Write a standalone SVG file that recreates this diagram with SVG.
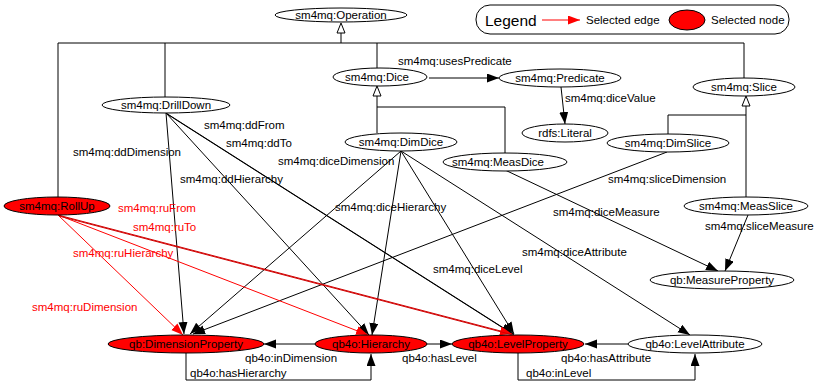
<svg xmlns="http://www.w3.org/2000/svg" width="818" height="384" viewBox="0 0 818 384">
<style>
.n{fill:#fff;stroke:#000;stroke-width:1}
.s{fill:#f00;stroke:#000;stroke-width:1}
.t{font-family:"Liberation Sans",Arial,sans-serif;font-size:11.5px;fill:#000}
.tc{text-anchor:middle}
.r{fill:#f00}
.e{fill:none;stroke:#000;stroke-width:1}
.er{fill:none;stroke:#f00;stroke-width:1}
.ed{fill:none;stroke:#d00000;stroke-width:1}
.h{fill:#fff;stroke:#000;stroke-width:1}
</style>
<defs>
<marker id="a" markerUnits="userSpaceOnUse" markerWidth="13" markerHeight="10" refX="12" refY="4.5" orient="auto"><path d="M0,0 L12,4.5 L0,9 z" fill="#000"/></marker>
<marker id="ar" markerUnits="userSpaceOnUse" markerWidth="13" markerHeight="10" refX="12" refY="4.5" orient="auto"><path d="M0,0 L12,4.5 L0,9 z" fill="#f00"/></marker>
</defs>
<rect width="818" height="384" fill="#fff"/>

<g id="legend">
<rect x="476" y="5" width="313" height="29" rx="14" ry="14" fill="#fff" stroke="#000"/>
<text x="485" y="26" font-family="Liberation Sans,Arial,sans-serif" font-size="15.5px">Legend</text>
<line x1="542" y1="20" x2="580" y2="20" stroke="#f00" stroke-width="1" marker-end="url(#ar)"/>
<text class="t" x="586" y="24">Selected edge</text>
<ellipse cx="687" cy="20" rx="18" ry="10" class="s"/>
<text class="t" x="711" y="24">Selected node</text>
</g>

<g id="connectors">
<path class="e" d="M58,197 V43 H744 V78 M341,33 V43 M165,43 V97 M377,43 V68"/>
<polygon class="h" points="341,23 345,33 337,33"/>
<path class="e" d="M377,96 V133 M377,107 H505 V153"/>
<polygon class="h" points="377,86 381,96 373,96"/>
<path class="e" d="M746,106 V197 M746,115 H668 V134"/>
<polygon class="h" points="746,96 750,106 742,106"/>
<line class="e" x1="429" y1="78" x2="499" y2="78" marker-end="url(#a)"/>
<line class="e" x1="561" y1="87" x2="565" y2="124" marker-end="url(#a)"/>
<line class="e" x1="166" y1="113" x2="184" y2="334" marker-end="url(#a)"/>
<line class="e" x1="166" y1="113" x2="369" y2="335" marker-end="url(#a)"/>
<line class="e" x1="166" y1="113" x2="513" y2="334" marker-end="url(#a)"/>
<line class="e" x1="167" y1="114" x2="514" y2="335"/>
<line class="e" x1="401" y1="151" x2="190" y2="334" marker-end="url(#a)"/>
<line class="e" x1="401" y1="151" x2="372" y2="335" marker-end="url(#a)"/>
<line class="e" x1="401" y1="151" x2="514" y2="334" marker-end="url(#a)"/>
<line class="e" x1="401" y1="151" x2="690" y2="335" marker-end="url(#a)"/>
<line class="e" x1="505" y1="170" x2="718" y2="271" marker-end="url(#a)"/>
<line class="e" x1="667" y1="152" x2="193" y2="334" marker-end="url(#a)"/>
<line class="e" x1="748" y1="215" x2="725" y2="271" marker-end="url(#a)"/>
<line class="er" x1="58" y1="215" x2="183" y2="335" marker-end="url(#ar)"/>
<line class="er" x1="58" y1="215" x2="368" y2="335" marker-end="url(#ar)"/>
<line class="ed" x1="58" y1="215" x2="512" y2="334" marker-end="url(#ar)"/>
<line class="ed" x1="59" y1="216" x2="513" y2="335"/>
<line class="e" x1="315" y1="344" x2="264" y2="344" marker-end="url(#a)"/>
<path class="e" d="M186,353 V380 H371 V354" marker-end="url(#a)"/>
<line class="e" x1="427" y1="344" x2="452" y2="344" marker-end="url(#a)"/>
<line class="e" x1="628" y1="344" x2="585" y2="344" marker-end="url(#a)"/>
<path class="e" d="M518,353 V380 H695 V354" marker-end="url(#a)"/>
<text class="t" x="398" y="65">sm4mq:usesPredicate</text>
<text class="t" x="565" y="102">sm4mq:diceValue</text>
<text class="t" x="204" y="129">sm4mq:ddFrom</text>
<text class="t" x="226" y="147">sm4mq:ddTo</text>
<text class="t" x="73" y="156">sm4mq:ddDimension</text>
<text class="t" x="180" y="183">sm4mq:ddHierarchy</text>
<text class="t" x="278" y="165">sm4mq:diceDimension</text>
<text class="t" x="335" y="211">sm4mq:diceHierarchy</text>
<text class="t" x="433" y="273">sm4mq:diceLevel</text>
<text class="t" x="522" y="256">sm4mq:diceAttribute</text>
<text class="t" x="553" y="216">sm4mq:diceMeasure</text>
<text class="t" x="608" y="183">sm4mq:sliceDimension</text>
<text class="t" x="705" y="230">sm4mq:sliceMeasure</text>
<text class="t r" x="118" y="212">sm4mq:ruFrom</text>
<text class="t r" x="133" y="231">sm4mq:ruTo</text>
<text class="t r" x="73" y="257">sm4mq:ruHierarchy</text>
<text class="t r" x="32" y="311">sm4mq:ruDimension</text>
<text class="t" x="245" y="362">qb4o:inDimension</text>
<text class="t" x="190" y="377">qb4o:hasHierarchy</text>
<text class="t" x="402" y="362">qb4o:hasLevel</text>
<text class="t" x="561" y="362">qb4o:hasAttribute</text>
<text class="t" x="526" y="377">qb4o:inLevel</text>
</g>

<g id="Operation"><ellipse class="n" cx="341" cy="15" rx="66" ry="7"/><text class="t tc" x="341" y="19">sm4mq:Operation</text></g>
<g id="Dice"><ellipse class="n" cx="380" cy="77" rx="47" ry="9"/><text class="t tc" x="377" y="81">sm4mq:Dice</text></g>
<g id="Predicate"><ellipse class="n" cx="560" cy="78" rx="61" ry="9"/><text class="t tc" x="560" y="82">sm4mq:Predicate</text></g>
<g id="Slice"><ellipse class="n" cx="744" cy="87" rx="51" ry="9"/><text class="t tc" x="744" y="91">sm4mq:Slice</text></g>
<g id="DrillDown"><ellipse class="n" cx="166" cy="105" rx="64" ry="8"/><text class="t tc" x="166" y="109">sm4mq:DrillDown</text></g>
<g id="Literal"><ellipse class="n" cx="565" cy="133" rx="43" ry="9"/><text class="t tc" x="565" y="137">rdfs:Literal</text></g>
<g id="DimDice"><ellipse class="n" cx="401" cy="142" rx="56" ry="9"/><text class="t tc" x="401" y="146">sm4mq:DimDice</text></g>
<g id="DimSlice"><ellipse class="n" cx="668" cy="143" rx="61" ry="9"/><text class="t tc" x="668" y="147">sm4mq:DimSlice</text></g>
<g id="MeasDice"><ellipse class="n" cx="505" cy="162" rx="62" ry="9"/><text class="t tc" x="498" y="166">sm4mq:MeasDice</text></g>
<g id="RollUp"><ellipse class="s" cx="57" cy="206" rx="53" ry="9"/><text class="t tc" x="57" y="210">sm4mq:RollUp</text></g>
<g id="MeasSlice"><ellipse class="n" cx="746" cy="206" rx="62" ry="9"/><text class="t tc" x="746" y="210">sm4mq:MeasSlice</text></g>
<g id="MeasureProperty"><ellipse class="n" cx="722" cy="280" rx="72" ry="9"/><text class="t tc" x="722" y="284">qb:MeasureProperty</text></g>
<g id="DimensionProperty"><ellipse class="s" cx="186" cy="344" rx="78" ry="9"/><text class="t tc" x="186" y="348">qb:DimensionProperty</text></g>
<g id="Hierarchy"><ellipse class="s" cx="371" cy="344" rx="56" ry="9"/><text class="t tc" x="371" y="348">qb4o:Hierarchy</text></g>
<g id="LevelProperty"><ellipse class="s" cx="518" cy="344" rx="66" ry="9"/><text class="t tc" x="518" y="348">qb4o:LevelProperty</text></g>
<g id="LevelAttribute"><ellipse class="n" cx="695" cy="344" rx="67" ry="9"/><text class="t tc" x="695" y="348">qb4o:LevelAttribute</text></g>
</svg>
